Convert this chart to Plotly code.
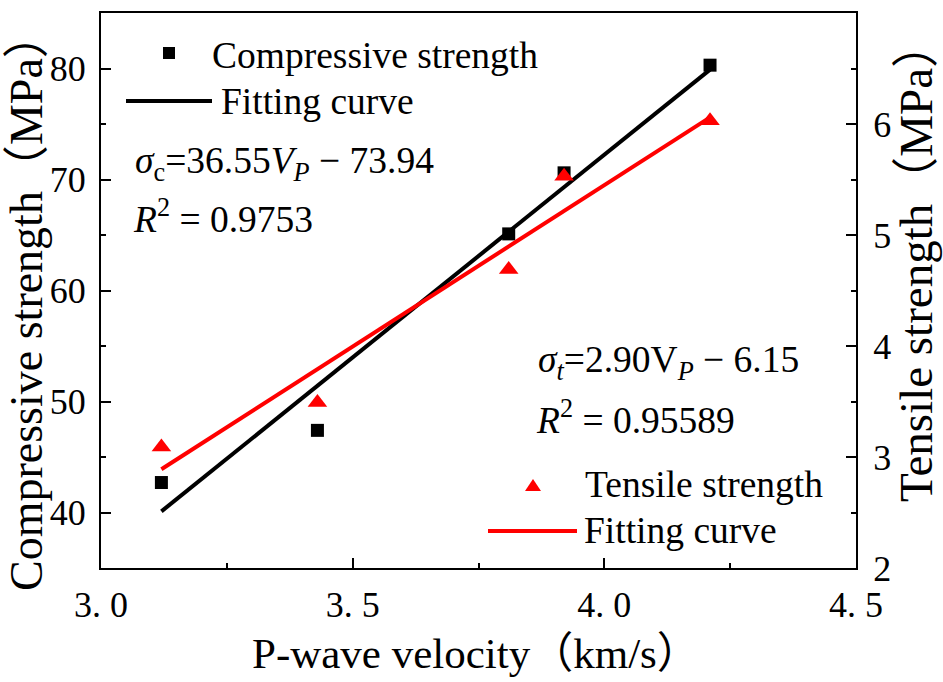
import plotly.graph_objects as go

# ---- data ----
vp = [3.12, 3.43, 3.81, 3.92, 4.21]
compressive = [42.7, 47.4, 65.1, 70.6, 80.3]
tensile = [3.09, 3.49, 4.69, 5.53, 6.03]
fit_x = [3.12, 4.21]
fit_compressive = [40.1, 79.9]
fit_tensile = [2.89, 6.06]

x_tickvals = [3.0, 3.5, 4.0, 4.5]
x_ticktext = ["3.\u00a00", "3.\u00a05", "4.\u00a00", "4.\u00a05"]
yl_tickvals = [40, 50, 60, 70, 80]
yr_tickvals = [2, 3, 4, 5, 6, 7]

W, H = 943, 682
L, R, T, B = 101, 87, 13, 114
PW, PH = W - L - R, H - T - B

FONT = "Liberation Serif, Times New Roman, Noto Sans CJK SC, serif"


def px(x):
    return (x - L) / PW


def py(y):
    return (H - B - y) / PH


fig = go.Figure()
fig.add_trace(go.Scatter(x=fit_x, y=fit_compressive, mode="lines",
                         line=dict(color="black", width=4), showlegend=False))
fig.add_trace(go.Scatter(x=vp, y=compressive, mode="markers",
                         marker=dict(symbol="square", size=13, color="black"),
                         showlegend=False))
fig.add_trace(go.Scatter(x=fit_x, y=fit_tensile, mode="lines", yaxis="y2",
                         line=dict(color="#ff0000", width=4), showlegend=False))
fig.add_trace(go.Scatter(x=vp, y=tensile, mode="markers", yaxis="y2",
                         marker=dict(symbol="triangle-up", size=17, color="#ff0000"),
                         showlegend=False))

axis_common = dict(showline=True, linewidth=2, linecolor="black", ticks="inside",
                   ticklen=10, tickwidth=2, tickcolor="black", showgrid=False,
                   zeroline=False, tickfont=dict(family=FONT, size=36, color="black"))

fig.update_layout(
    width=W, height=H,
    margin=dict(l=L, r=R, t=T, b=B, autoexpand=False),
    plot_bgcolor="white", paper_bgcolor="white",
    showlegend=False,
    xaxis=dict(range=[3.0, 4.5], tickmode="array", tickvals=x_tickvals,
               ticktext=x_ticktext, mirror=True, ticklabelstandoff=4,
               minor=dict(ticks="inside", ticklen=5, tickwidth=2, dtick=0.25,
                          tick0=3.0, tickcolor="black"),
               **axis_common),
    yaxis=dict(range=[35, 85], tickmode="array", tickvals=yl_tickvals,
               ticklabelstandoff=6,
               minor=dict(ticks="inside", ticklen=5, tickwidth=2, dtick=5,
                          tick0=35, tickcolor="black"),
               **axis_common),
    yaxis2=dict(range=[2, 7], tickmode="array", tickvals=yr_tickvals,
                overlaying="y", side="right", ticklabelstandoff=8,
                minor=dict(ticks="inside", ticklen=5, tickwidth=2, dtick=0.5,
                           tick0=2, tickcolor="black"),
                **axis_common),
)

ann_font = dict(family=FONT, size=37.5, color="black")
annotations = [
    # axis titles
    dict(x=px(26), y=py(302), text="Compressive strength（MPa）", textangle=-90,
         font=dict(family=FONT, size=46, color="black"), xanchor="center", yanchor="middle"),
    dict(x=px(916), y=py(262), text="Tensile strength（MPa）", textangle=-90,
         font=dict(family=FONT, size=47, color="black"), xanchor="center", yanchor="middle"),
    dict(x=px(476), y=py(653), text="P-wave velocity（km/s）",
         font=dict(family=FONT, size=43, color="black"), xanchor="center", yanchor="middle"),
    # upper legend / equation
    dict(x=px(210), y=py(55), text="Compressive strength", font=ann_font,
         xanchor="left", yanchor="middle"),
    dict(x=px(219), y=py(101), text="Fitting curve", font=ann_font,
         xanchor="left", yanchor="middle"),
    dict(x=px(133), y=py(163),
         text="<i>σ</i><sub>c</sub>=36.55<i>V</i><sub><i>P</i></sub> − 73.94",
         font=ann_font, xanchor="left", yanchor="middle"),
    dict(x=px(131), y=py(216), text="<i>R</i><sup>2</sup> = 0.9753", font=ann_font,
         xanchor="left", yanchor="middle"),
    # lower legend / equation
    dict(x=px(536), y=py(362),
         text="<i>σ</i><sub><i>t</i></sub>=2.90V<sub><i>P</i></sub> − 6.15",
         font=ann_font, xanchor="left", yanchor="middle"),
    dict(x=px(534), y=py(417), text="<i>R</i><sup>2</sup> = 0.95589", font=ann_font,
         xanchor="left", yanchor="middle"),
    dict(x=px(583), y=py(484), text="Tensile strength", font=ann_font,
         xanchor="left", yanchor="middle"),
    dict(x=px(582), y=py(530), text="Fitting curve", font=ann_font,
         xanchor="left", yanchor="middle"),
]
for a in annotations:
    a.update(xref="paper", yref="paper", showarrow=False)
fig.update_layout(annotations=annotations)

# legend symbols (drawn in paper space)
shapes = [
    dict(type="rect", x0=px(163), x1=px(175), y0=py(59), y1=py(47),
         fillcolor="black", line=dict(width=0)),
    dict(type="line", x0=px(126), x1=px(212), y0=py(101), y1=py(101),
         line=dict(color="black", width=4)),
    dict(type="path",
         path=f"M {px(525)} {py(491)} L {px(541)} {py(491)} L {px(533)} {py(479)} Z",
         fillcolor="#ff0000", line=dict(width=0)),
    dict(type="line", x0=px(488), x1=px(577), y0=py(531), y1=py(531),
         line=dict(color="#ff0000", width=4)),
]
for s in shapes:
    s.update(xref="paper", yref="paper")
fig.update_layout(shapes=shapes)

fig.write_html("out.html", config={"displayModeBar": False},
               post_script="document.body.style.margin='0';document.body.style.overflow='hidden';")
